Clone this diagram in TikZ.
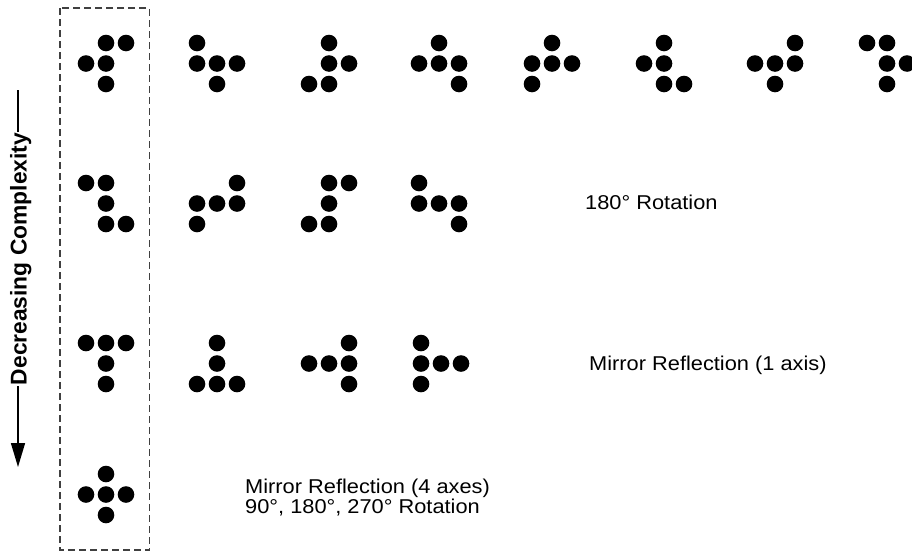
\documentclass[tikz,border=0pt]{standalone}
\usepackage{fontspec}
\setmainfont{Liberation Sans}
\newfontfamily\widefont[FakeStretch=1.09]{Liberation Sans}
\usetikzlibrary{arrows.meta}
\newcommand\dotpattern[3]{%
  \foreach \cc/\rr in {#3} {\fill[black] (#1+\cc*20, #2+\rr*20.5) circle[radius=8.3pt];}}
\tikzset{
  lab/.style={font=\widefont\fontsize{20}{20}\selectfont, inner sep=0pt, anchor=base west},
  sidelab/.style={font=\bfseries\fontsize{22.8}{26}\selectfont, inner sep=1pt, rotate=90, anchor=base},
  framebox/.style={draw=black!75, line width=1.2pt, dash pattern=on 7pt off 4pt},
  axisline/.style={line width=1.5pt}
}
\begin{document}
\begin{tikzpicture}[x=1pt,y=-1pt]
\useasboundingbox (0,0) rectangle (912,552);
% dashed frame
\draw[framebox] (60,8) rectangle (149.5,550);
% row 1
\dotpattern{86}{43}{1/0,2/0,0/1,1/1,1/2}
\dotpattern{197}{43}{0/0,0/1,1/1,2/1,1/2}
\dotpattern{309}{43}{1/0,1/1,2/1,0/2,1/2}
\dotpattern{419}{43}{1/0,0/1,1/1,2/1,2/2}
\dotpattern{532}{43}{1/0,0/1,1/1,2/1,0/2}
\dotpattern{644}{43}{1/0,0/1,1/1,1/2,2/2}
\dotpattern{755}{43}{2/0,0/1,1/1,2/1,1/2}
\dotpattern{867}{43}{0/0,1/0,1/1,2/1,1/2}
% row 2
\dotpattern{86}{183}{0/0,1/0,1/1,1/2,2/2}
\dotpattern{197}{183}{2/0,0/1,1/1,2/1,0/2}
\dotpattern{309}{183}{1/0,2/0,1/1,0/2,1/2}
\dotpattern{419}{183}{0/0,0/1,1/1,2/1,2/2}
% row 3
\dotpattern{86}{343}{0/0,1/0,2/0,1/1,1/2}
\dotpattern{197}{343}{1/0,1/1,0/2,1/2,2/2}
\dotpattern{309}{343}{2/0,0/1,1/1,2/1,2/2}
\dotpattern{421}{343}{0/0,0/1,1/1,2/1,0/2}
% row 4
\dotpattern{86}{474}{1/0,0/1,1/1,2/1,1/2}
% labels
\node[lab] (rot) at (585,209) {180° Rotation};
\node[lab] (mir1) at (589,370) {Mirror Reflection (1 axis)};
\node[lab, anchor=north west, align=left] (mir4) at (245,479) {Mirror Reflection (4 axes)\\90°, 180°, 270° Rotation};
% side label with arrow
\node[sidelab] (side) at (26.5,259) {Decreasing Complexity};
\coordinate (topend) at (18,90);
\coordinate (tip) at (18,467);
\draw[axisline] (topend |- side.east) -- (topend);
\draw[axisline, -{Triangle[length=24pt,width=14pt]}] (tip |- side.west) -- (tip);
\end{tikzpicture}
\end{document}
